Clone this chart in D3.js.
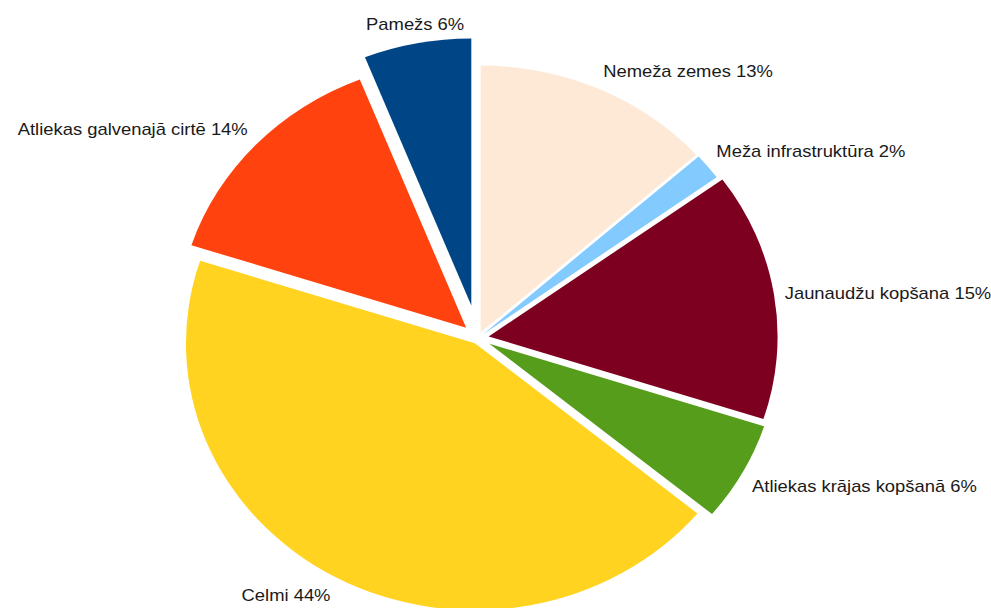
<!DOCTYPE html>
<html>
<head>
<meta charset="utf-8">
<script src="https://cdn.jsdelivr.net/npm/d3@7"></script>
<style>
  html, body { margin: 0; padding: 0; background: #fff; }
  #pieChart text { font-family: "Liberation Sans", Arial, sans-serif; font-size: 17px; fill: #1a1a1a; }
</style>
</head>
<body>
<div id="pieChart"></div>
<script>
// Dados do gráfico //
const categorias = ["Nemeža zemes", "Meža infrastruktūra", "Jaunaudžu kopšana", "Atliekas krājas kopšanā", "Celmi", "Atliekas galvenajā cirtē", "Pamežs"];
const valores = [13.4, 1.6, 15, 6, 44, 14, 6];
const cores = ["#fee9d7", "#83caff", "#7e0021", "#579d1c", "#ffd320", "#ff420e", "#004586"];

// Renderiza o gráfico //
const width = 991, height = 608;
const cx = 478, cy = 338;
const radius = 267;
const stretch = 1.082; // o original está esticado na horizontal

// afastamento de cada fatia a partir do centro (estilo)
const afastamento = {
  "Nemeža zemes": 6,
  "Meža infrastruktūra": 6,
  "Jaunaudžu kopšana": 10,
  "Atliekas krājas kopšanā": 12,
  "Celmi": 6,
  "Atliekas galvenajā cirtē": 15,
  "Pamežs": 33
};

const data = categorias.map((nome, i) => ({ nome: nome, valor: valores[i], cor: cores[i] }));

const pie = d3.pie().sort(null).value(d => d.valor);
const arc = d3.arc().innerRadius(0).outerRadius(radius);
const slices = pie(data);

const mid = d => (d.startAngle + d.endAngle) / 2;
const explode = d => afastamento[d.data.nome] || 0;

const svg = d3.select("#pieChart").append("svg")
    .attr("width", width)
    .attr("height", height)
    .attr("viewBox", "0 0 " + width + " " + height);

const group = svg.append("g")
    .attr("transform", "translate(" + cx + "," + cy + ") scale(" + stretch + ",1)");

group.selectAll("path.slice")
    .data(slices)
    .enter()
    .append("path")
    .attr("class", "slice")
    .attr("d", arc)
    .attr("fill", d => d.data.cor)
    .attr("transform", d => {
      const a = mid(d), o = explode(d);
      return "translate(" + (Math.sin(a) * o) + "," + (-Math.cos(a) * o) + ")";
    });

// Rótulos: o canto mais próximo da caixa fica junto à fatia //
const labelGap = 10, halfH = 9;
svg.selectAll("text.label")
    .data(slices)
    .enter()
    .append("text")
    .attr("class", "label")
    .attr("dy", "0.35em")
    .attr("transform", d => {
      const a = mid(d), s = Math.sin(a), c = Math.cos(a);
      const o = explode(d), r = radius + labelGap;
      const x = cx + s * (o + r) * stretch;
      let y = cy - c * (o + r);
      if (c > 0.3) y -= halfH;
      else if (c < -0.3) y += halfH;
      return "translate(" + x + "," + y + ") scale(" + stretch + ",1)";
    })
    .attr("text-anchor", d => {
      const s = Math.sin(mid(d));
      return s > 0.25 ? "start" : (s < -0.25 ? "end" : "middle");
    })
    .text(d => d.data.nome + " " + Math.round(d.data.valor) + "%");
</script>
</body>
</html>
